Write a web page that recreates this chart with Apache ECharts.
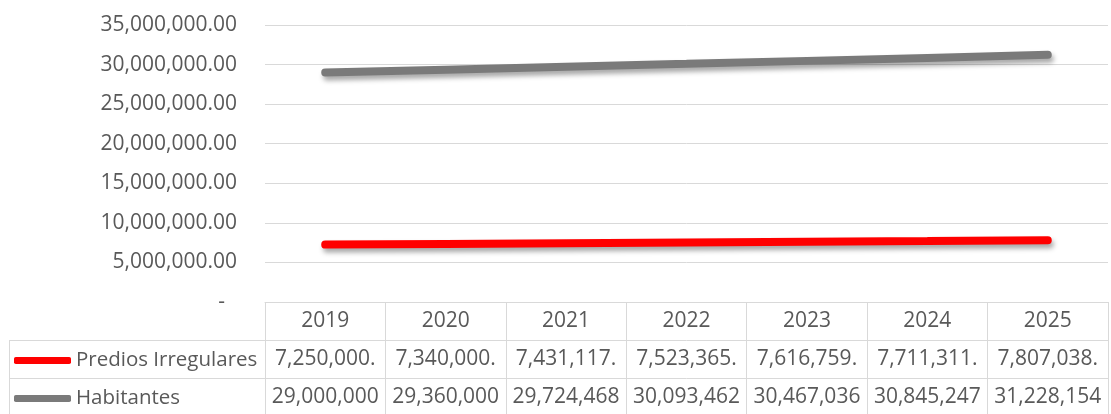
<!DOCTYPE html>
<html>
<head>
<meta charset="utf-8">
<script src="https://cdn.jsdelivr.net/npm/echarts@6/dist/echarts.min.js"></script>
<style>
html,body{margin:0;padding:0;background:#fff;}
#c{width:1111px;height:414px;}
</style>
</head>
<body>
<div id="c"></div>
<script>
const years = ['2019','2020','2021','2022','2023','2024','2025'];
const predios = [7250000, 7340000, 7431117, 7523365, 7616759, 7711311, 7807038];
const habitantes = [29000000, 29360000, 29724468, 30093462, 30467036, 30845247, 31228154];
const seriesNames = ['Predios Irregulares', 'Habitantes'];
const yTicks = [0, 5000000, 10000000, 15000000, 20000000, 25000000, 30000000, 35000000];

const fmt2 = v => v.toLocaleString('en-US', {minimumFractionDigits: 2, maximumFractionDigits: 2});
const cell = v => fmt2(v).slice(0, 10);

const FONT = '"Open Sans", "Noto Sans", sans-serif';
const TXT = '#595959';
const GRID = '#d9d9d9';
const FS = 21;

const chart = echarts.init(document.getElementById('c'));
const shadow = {shadowColor: 'rgba(0,0,0,0.35)', shadowBlur: 5, shadowOffsetX: 2, shadowOffsetY: 4};

const baseX = {
  type: 'category', data: years, gridIndex: 0, position: 'bottom', boundaryGap: true,
  axisLine: {show: true, lineStyle: {color: GRID, width: 1}},
  splitLine: {show: false}
};
const lbl = extra => Object.assign({color: TXT, fontSize: FS, fontFamily: FONT, margin: 19,
  verticalAlign: 'middle', interval: 0, hideOverlap: false}, extra || {});

const legendBase = {left: 14, orient: 'horizontal', itemWidth: 57, itemHeight: 7, padding: 0,
  icon: 'roundRect', textStyle: {color: TXT, fontSize: 20.5, fontFamily: FONT}, selectedMode: false};

chart.setOption({
  animation: false,
  backgroundColor: '#fff',
  textStyle: {fontFamily: FONT},
  grid: {left: 265, right: 3, top: 25, bottom: 112, containLabel: false},
  legend: [
    Object.assign({}, legendBase, {data: [seriesNames[0]], top: 350}),
    Object.assign({}, legendBase, {data: [seriesNames[1]], top: 388})
  ],
  xAxis: [
    Object.assign({}, baseX, {
      axisTick: {show: true, length: 112, interval: 0, lineStyle: {color: GRID}},
      axisLabel: lbl()
    }),
    Object.assign({}, baseX, {
      offset: 38,
      axisTick: {show: false},
      axisLabel: lbl({formatter: (v, i) => cell(predios[i])})
    }),
    Object.assign({}, baseX, {
      offset: 76,
      axisTick: {show: false},
      axisLabel: lbl({formatter: (v, i) => cell(habitantes[i])})
    })
  ],
  yAxis: {
    type: 'value', min: yTicks[0], max: yTicks[yTicks.length - 1], interval: yTicks[1] - yTicks[0],
    axisLine: {show: false}, axisTick: {show: false},
    splitLine: {show: true, lineStyle: {color: GRID, width: 1}},
    axisLabel: {
      color: TXT, fontSize: FS, fontFamily: FONT, margin: 28,
      formatter: v => v === 0 ? '{z|-}' : fmt2(v),
      rich: {z: {color: TXT, fontSize: FS, fontFamily: FONT, padding: [0, 12, 0, 0]}}
    }
  },
  graphic: [
    {type: 'line', shape: {x1: 9, y1: 340.5, x2: 265, y2: 340.5}, style: {stroke: GRID, lineWidth: 1}},
    {type: 'line', shape: {x1: 9, y1: 378.5, x2: 265, y2: 378.5}, style: {stroke: GRID, lineWidth: 1}},
    {type: 'line', shape: {x1: 9.5, y1: 340, x2: 9.5, y2: 414}, style: {stroke: GRID, lineWidth: 1}}
  ],
  series: [
    {name: seriesNames[0], type: 'line', data: predios, symbol: 'none', color: '#ff0000',
     lineStyle: Object.assign({width: 8, color: '#ff0000', cap: 'round'}, shadow)},
    {name: seriesNames[1], type: 'line', data: habitantes, symbol: 'none', color: '#7a7a7a',
     lineStyle: Object.assign({width: 8, color: '#7a7a7a', cap: 'round'}, shadow)}
  ]
});
</script>
</body>
</html>
